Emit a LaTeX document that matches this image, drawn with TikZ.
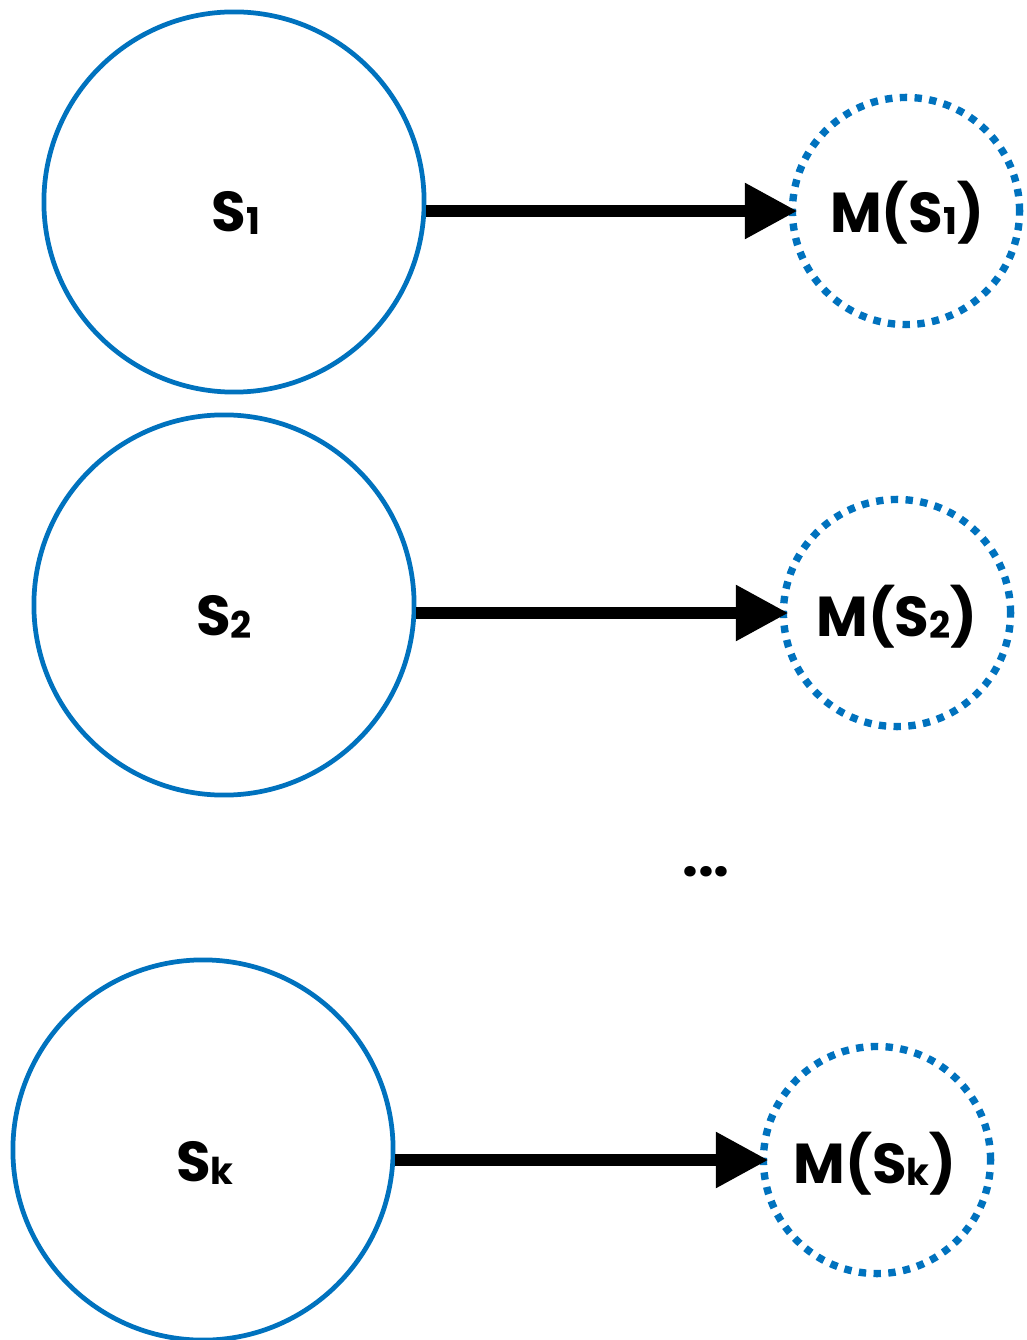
\documentclass[tikz,border=0pt]{standalone}
\usepackage{fontspec}
\setmainfont{Poppins}
\usetikzlibrary{arrows.meta}
\definecolor{setblue}{RGB}{0,114,190}
\newcommand\idx[1]{{\fontsize{10.5}{10.5}\selectfont\raisebox{-0.6pt}{#1}}}
\tikzset{
  setcirc/.style={circle, draw=setblue, line width=1.35pt, minimum size=3.8cm, inner sep=0pt},
  imgcirc/.style={circle, draw=setblue, line width=2.1pt, dash pattern=on 2.1pt off 2.1pt, minimum size=2.27cm, inner sep=0pt},
  lbl/.style={font=\fontsize{16}{16}\selectfont\bfseries, inner sep=0pt},
  maparrow/.style={line width=3.6pt, shorten >=-2.5pt, -{Triangle[length=15pt,width=15pt]}}
}
\begin{document}
\begin{tikzpicture}[x=0.01cm, y=-0.01cm]
\useasboundingbox (0,0) rectangle (1026,1340);
% source sets
\node[setcirc] (S1) at (234,202) {};
\node[setcirc] (S2) at (224,605) {};
\node[setcirc] (Sk) at (203,1150) {};
\node[lbl] (tS1) at (236,213) {S\idx{1}};
\node[lbl] (tS2) at (224,617) {S\idx{2}};
\node[lbl] (tSk) at (205,1163) {S\idx{k}};
% images under M
\node[imgcirc] (M1) at (906,211) {};
\node[imgcirc] (M2) at (897,613) {};
\node[imgcirc] (Mk) at (877,1160) {};
\node[lbl] (tM1) at (907,213) {M(S\idx{1})};
\node[lbl] (tM2) at (897,617) {M(S\idx{2})};
\node[lbl] (tMk) at (875,1164) {M(S\idx{k})};
% mappings
\draw[maparrow] (S1.east |- M1.center) -- (M1.west);
\draw[maparrow] (S2.east |- M2.center) -- (M2.west);
\draw[maparrow] (Sk.east |- Mk.center) -- (Mk.west);
% ellipsis
\node[lbl] (dots) at (706,872) {...};
\end{tikzpicture}
\end{document}
